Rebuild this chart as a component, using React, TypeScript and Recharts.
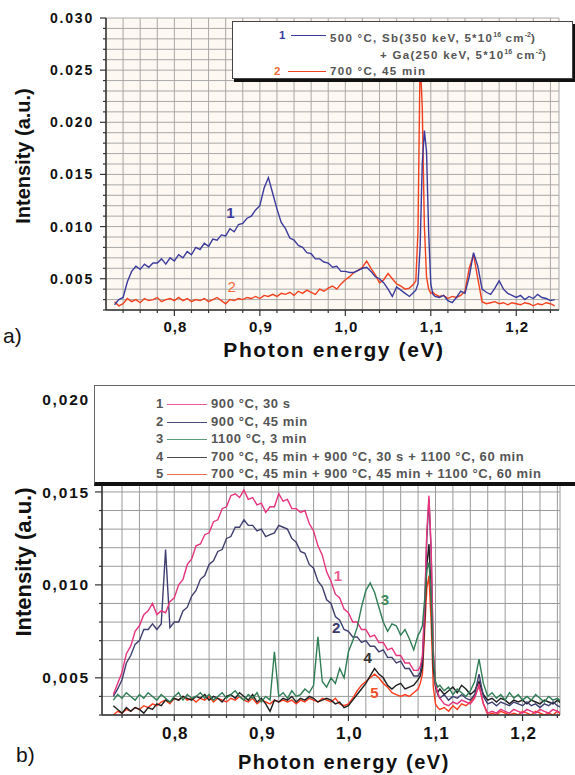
import { LineChart, Line, XAxis, YAxis, CartesianGrid, Legend, ReferenceDot } from 'recharts';

const FONT = '"Liberation Sans", Arial, sans-serif';

// photon energy (eV), finer steps across the 1.09 eV line
const energy = [
    0.730, 0.735, 0.740, 0.745, 0.750, 0.755, 0.760, 0.765, 0.770, 0.775,
    0.780, 0.785, 0.790, 0.795, 0.800, 0.805, 0.810, 0.815, 0.820, 0.825,
    0.830, 0.835, 0.840, 0.845, 0.850, 0.855, 0.860, 0.865, 0.870, 0.875,
    0.880, 0.885, 0.890, 0.895, 0.900, 0.905, 0.910, 0.915, 0.920, 0.925,
    0.930, 0.935, 0.940, 0.945, 0.950, 0.955, 0.960, 0.965, 0.970, 0.975,
    0.980, 0.985, 0.990, 0.995, 1.000, 1.005, 1.010, 1.015, 1.020, 1.025,
    1.030, 1.035, 1.040, 1.045, 1.050, 1.055, 1.060, 1.065, 1.070, 1.075,
    1.080, 1.0825, 1.085, 1.0875, 1.090, 1.0925, 1.095, 1.0975, 1.100, 1.1025,
    1.105, 1.110, 1.115, 1.120, 1.125, 1.130, 1.135, 1.140, 1.145, 1.150,
    1.155, 1.160, 1.165, 1.170, 1.175, 1.180, 1.185, 1.190, 1.195, 1.200,
    1.205, 1.210, 1.215, 1.220, 1.225, 1.230, 1.235, 1.240, 1.245,
];

// panel a) 1: 500 °C, Sb + Ga implanted
const implantedA = [
    0.0025, 0.0030, 0.0032, 0.0047, 0.0057, 0.0062, 0.0059, 0.0064, 0.0061, 0.0065,
    0.0065, 0.0069, 0.0064, 0.0070, 0.0067, 0.0073, 0.0070, 0.0076, 0.0073, 0.0080,
    0.0078, 0.0084, 0.0081, 0.0088, 0.0087, 0.0092, 0.0091, 0.0098, 0.0095, 0.0102,
    0.0103, 0.0108, 0.0110, 0.0116, 0.0120, 0.0137, 0.0147, 0.0132, 0.0117, 0.0104,
    0.0098, 0.0089, 0.0087, 0.0082, 0.0080, 0.0075, 0.0074, 0.0069, 0.0069, 0.0066,
    0.0065, 0.0061, 0.0062, 0.0057, 0.0057, 0.0056, 0.0056, 0.0058, 0.0060, 0.0061,
    0.0057, 0.0052, 0.0050, 0.0046, 0.0040, 0.0033, 0.0042, 0.0039, 0.0036, 0.0033,
    0.0037, 0.0039, 0.0045, 0.0080, 0.0160, 0.0192, 0.0172, 0.0095, 0.0045, 0.0035,
    0.0033, 0.0032, 0.0034, 0.0029, 0.0027, 0.0032, 0.0038, 0.0036, 0.0052, 0.0075,
    0.0062, 0.0040, 0.0037, 0.0035, 0.0041, 0.0048, 0.0040, 0.0036, 0.0034, 0.0032,
    0.0034, 0.0030, 0.0033, 0.0031, 0.0035, 0.0032, 0.0031, 0.0029, 0.0030,
];

// panel a) 2: 700 °C, 45 min
const anneal700A = [
    0.0028, 0.0024, 0.0026, 0.0031, 0.0028, 0.0030, 0.0027, 0.0031, 0.0029, 0.0030,
    0.0032, 0.0028, 0.0030, 0.0031, 0.0029, 0.0032, 0.0029, 0.0031, 0.0028, 0.0030,
    0.0029, 0.0031, 0.0028, 0.0030, 0.0032, 0.0029, 0.0026, 0.0030, 0.0029, 0.0031,
    0.0030, 0.0032, 0.0031, 0.0033, 0.0031, 0.0034, 0.0033, 0.0035, 0.0033, 0.0036,
    0.0035, 0.0037, 0.0034, 0.0038, 0.0036, 0.0039, 0.0037, 0.0035, 0.0040, 0.0038,
    0.0041, 0.0043, 0.0040, 0.0045, 0.0049, 0.0052, 0.0056, 0.0058, 0.0061, 0.0067,
    0.0060, 0.0054, 0.0046, 0.0049, 0.0055, 0.0050, 0.0045, 0.0043, 0.0040, 0.0041,
    0.0045, 0.0048, 0.0095, 0.0262, 0.0215, 0.0100, 0.0052, 0.0040, 0.0036, 0.0037,
    0.0035, 0.0033, 0.0034, 0.0031, 0.0033, 0.0032, 0.0034, 0.0038, 0.0060, 0.0073,
    0.0050, 0.0028, 0.0026, 0.0027, 0.0028, 0.0026, 0.0027, 0.0025, 0.0027, 0.0026,
    0.0025, 0.0027, 0.0026, 0.0024, 0.0026, 0.0025, 0.0027, 0.0026, 0.0024,
];

// panel b) 1: 900 °C, 30 s
const rta900s = [
    0.0041, 0.0047, 0.0053, 0.0063, 0.0067, 0.0075, 0.0078, 0.0084, 0.0086, 0.0090,
    0.0084, 0.0086, 0.0085, 0.0091, 0.0093, 0.0100, 0.0103, 0.0111, 0.0114, 0.0121,
    0.0122, 0.0127, 0.0128, 0.0134, 0.0135, 0.0141, 0.0142, 0.0148, 0.0149, 0.0147,
    0.0151, 0.0146, 0.0147, 0.0143, 0.0144, 0.0139, 0.0142, 0.0142, 0.0149, 0.0145,
    0.0146, 0.0141, 0.0141, 0.0139, 0.0140, 0.0133, 0.0129, 0.0121, 0.0116, 0.0107,
    0.0102, 0.0095, 0.0093, 0.0087, 0.0085, 0.0080, 0.0080, 0.0076, 0.0076, 0.0072,
    0.0073, 0.0069, 0.0069, 0.0065, 0.0066, 0.0062, 0.0062, 0.0058, 0.0058, 0.0054,
    0.0054, 0.0056, 0.0062, 0.0088, 0.0128, 0.0148, 0.0120, 0.0065, 0.0047, 0.0042,
    0.0039, 0.0036, 0.0035, 0.0037, 0.0036, 0.0038, 0.0037, 0.0036, 0.0039, 0.0046,
    0.0036, 0.0031, 0.0032, 0.0031, 0.0033, 0.0032, 0.0031, 0.0033, 0.0032, 0.0031,
    0.0033, 0.0032, 0.0031, 0.0033, 0.0032, 0.0031, 0.0033, 0.0032, 0.0031,
];

// panel b) 2: 900 °C, 45 min
const anneal900 = [
    0.0040, 0.0044, 0.0049, 0.0058, 0.0062, 0.0068, 0.0070, 0.0076, 0.0076, 0.0079,
    0.0076, 0.0079, 0.0119, 0.0077, 0.0080, 0.0080, 0.0086, 0.0088, 0.0094, 0.0097,
    0.0103, 0.0105, 0.0111, 0.0113, 0.0118, 0.0119, 0.0125, 0.0126, 0.0131, 0.0131,
    0.0135, 0.0132, 0.0132, 0.0129, 0.0130, 0.0126, 0.0127, 0.0128, 0.0132, 0.0131,
    0.0130, 0.0125, 0.0123, 0.0118, 0.0117, 0.0111, 0.0109, 0.0102, 0.0099, 0.0092,
    0.0090, 0.0083, 0.0081, 0.0076, 0.0075, 0.0072, 0.0072, 0.0069, 0.0070, 0.0067,
    0.0067, 0.0064, 0.0065, 0.0061, 0.0061, 0.0058, 0.0059, 0.0055, 0.0055, 0.0051,
    0.0051, 0.0053, 0.0060, 0.0085, 0.0125, 0.0146, 0.0118, 0.0062, 0.0046, 0.0041,
    0.0039, 0.0041, 0.0038, 0.0040, 0.0039, 0.0041, 0.0039, 0.0038, 0.0041, 0.0052,
    0.0040, 0.0036, 0.0037, 0.0035, 0.0037, 0.0036, 0.0035, 0.0037, 0.0036, 0.0035,
    0.0037, 0.0035, 0.0036, 0.0034, 0.0036, 0.0035, 0.0037, 0.0035, 0.0034,
];

// panel b) 3: 1100 °C, 3 min
const anneal1100 = [
    0.0038, 0.0041, 0.0039, 0.0042, 0.0040, 0.0038, 0.0041, 0.0039, 0.0042, 0.0040,
    0.0038, 0.0041, 0.0039, 0.0037, 0.0040, 0.0042, 0.0038, 0.0041, 0.0039, 0.0040,
    0.0042, 0.0039, 0.0041, 0.0038, 0.0040, 0.0042, 0.0039, 0.0041, 0.0043, 0.0040,
    0.0038, 0.0041, 0.0039, 0.0042, 0.0037, 0.0040, 0.0038, 0.0064, 0.0040, 0.0042,
    0.0039, 0.0043, 0.0040, 0.0041, 0.0044, 0.0042, 0.0046, 0.0072, 0.0048, 0.0045,
    0.0050, 0.0047, 0.0055, 0.0050, 0.0064, 0.0070, 0.0077, 0.0088, 0.0097, 0.0101,
    0.0096, 0.0088, 0.0080, 0.0075, 0.0079, 0.0078, 0.0073, 0.0076, 0.0071, 0.0065,
    0.0073, 0.0075, 0.0078, 0.0092, 0.0108, 0.0112, 0.0095, 0.0060, 0.0048, 0.0045,
    0.0046, 0.0043, 0.0045, 0.0041, 0.0044, 0.0042, 0.0040, 0.0043, 0.0048, 0.0060,
    0.0047, 0.0040, 0.0042, 0.0039, 0.0041, 0.0038, 0.0042, 0.0039, 0.0041, 0.0038,
    0.0040, 0.0038, 0.0041, 0.0039, 0.0037, 0.0040, 0.0038, 0.0039, 0.0037,
];

// panel b) 4: 700 °C 45 min + 900 °C 30 s + 1100 °C 60 min
const stepRta = [
    0.0035, 0.0033, 0.0031, 0.0034, 0.0032, 0.0034, 0.0033, 0.0031, 0.0034, 0.0033,
    0.0036, 0.0035, 0.0038, 0.0037, 0.0039, 0.0038, 0.0040, 0.0039, 0.0038, 0.0040,
    0.0039, 0.0041, 0.0038, 0.0040, 0.0039, 0.0037, 0.0040, 0.0041, 0.0039, 0.0042,
    0.0040, 0.0038, 0.0041, 0.0037, 0.0039, 0.0036, 0.0032, 0.0038, 0.0037, 0.0039,
    0.0038, 0.0040, 0.0037, 0.0039, 0.0038, 0.0040, 0.0039, 0.0037, 0.0038, 0.0039,
    0.0038, 0.0036, 0.0037, 0.0034, 0.0035, 0.0038, 0.0041, 0.0044, 0.0047, 0.0051,
    0.0055, 0.0052, 0.0050, 0.0046, 0.0044, 0.0046, 0.0047, 0.0044, 0.0045, 0.0046,
    0.0049, 0.0051, 0.0056, 0.0080, 0.0110, 0.0122, 0.0095, 0.0055, 0.0045, 0.0042,
    0.0044, 0.0041, 0.0043, 0.0045, 0.0042, 0.0046, 0.0044, 0.0041, 0.0043, 0.0048,
    0.0041, 0.0038, 0.0039, 0.0037, 0.0039, 0.0038, 0.0036, 0.0038, 0.0037, 0.0038,
    0.0036, 0.0038, 0.0037, 0.0036, 0.0038, 0.0037, 0.0036, 0.0038, 0.0036,
];

// panel b) 5: 700 °C 45 min + 900 °C 45 min + 1100 °C 60 min
const stepLong = [
    0.0030, 0.0032, 0.0031, 0.0033, 0.0032, 0.0034, 0.0033, 0.0035, 0.0034, 0.0036,
    0.0035, 0.0037, 0.0038, 0.0036, 0.0039, 0.0038, 0.0040, 0.0038, 0.0039, 0.0037,
    0.0039, 0.0038, 0.0040, 0.0037, 0.0039, 0.0038, 0.0037, 0.0039, 0.0038, 0.0040,
    0.0038, 0.0037, 0.0039, 0.0036, 0.0038, 0.0037, 0.0036, 0.0038, 0.0037, 0.0038,
    0.0037, 0.0038, 0.0036, 0.0038, 0.0037, 0.0039, 0.0038, 0.0037, 0.0039, 0.0038,
    0.0037, 0.0039, 0.0036, 0.0035, 0.0036, 0.0039, 0.0043, 0.0046, 0.0048, 0.0050,
    0.0052, 0.0050, 0.0047, 0.0045, 0.0042, 0.0041, 0.0040, 0.0041, 0.0040, 0.0042,
    0.0044, 0.0047, 0.0052, 0.0075, 0.0098, 0.0105, 0.0080, 0.0045, 0.0036, 0.0034,
    0.0033, 0.0034, 0.0032, 0.0035, 0.0033, 0.0036, 0.0035, 0.0037, 0.0040, 0.0046,
    0.0036, 0.0030, 0.0031, 0.0030, 0.0032, 0.0031, 0.0030, 0.0031, 0.0030, 0.0032,
    0.0031, 0.0030, 0.0032, 0.0031, 0.0030, 0.0031, 0.0030, 0.0032, 0.0030,
];

const xTicks = [
    0.74, 0.76, 0.78, 0.8, 0.82, 0.84, 0.86, 0.88, 0.9, 0.92, 0.94, 0.96, 0.98,
    1.0, 1.02, 1.04, 1.06, 1.08, 1.1, 1.12, 1.14, 1.16, 1.18, 1.2, 1.22, 1.24,
];
const xMajor = [0.8, 0.9, 1.0, 1.1, 1.2];
const xMajorLabels = ['0,8', '0,9', '1,0', '1,1', '1,2'];

const yTicksA = [
    0.002, 0.003, 0.004, 0.005, 0.006, 0.007, 0.008, 0.009, 0.01, 0.011, 0.012,
    0.013, 0.014, 0.015, 0.016, 0.017, 0.018, 0.019, 0.02, 0.021, 0.022, 0.023,
    0.024, 0.025, 0.026, 0.027, 0.028, 0.029, 0.03,
];
const yMajorA = [0.005, 0.01, 0.015, 0.02, 0.025, 0.03];
const yMajorLabelsA = ['0.005', '0.010', '0.015', '0.020', '0.025', '0.030'];

const yTicksB = [
    0.003, 0.004, 0.005, 0.006, 0.007, 0.008, 0.009, 0.01, 0.011, 0.012, 0.013,
    0.014, 0.015, 0.016, 0.017, 0.018, 0.019, 0.02,
];
const yMajorB = [0.005, 0.01, 0.015, 0.02];
const yMajorLabelsB = ['0,005', '0,010', '0,015', '0,020'];

const dataA = energy.map((e, i) => ({ e, s1: implantedA[i], s2: anneal700A[i] }));
const dataB = energy.map((e, i) => ({
    e,
    s1: rta900s[i],
    s2: anneal900[i],
    s3: anneal1100[i],
    s4: stepRta[i],
    s5: stepLong[i],
}));

const findMajor = (list: number[], v: number) => list.findIndex((m) => Math.abs(m - v) < 1e-7);

const makeYTick =
    (majors: number[], labels: string[], fontSize: number, majorLen: number, gap: number) =>
    (p: any) => {
        const i = findMajor(majors, p.payload.value);
        const len = i >= 0 ? majorLen : 3;
        return (
            <g>
                <line x1={p.x - len} x2={p.x} y1={p.y} y2={p.y} stroke="#333" strokeWidth={1.2} />
                {i >= 0 && (
                    <text
                        x={p.x - gap}
                        y={p.y}
                        dy="0.36em"
                        textAnchor="end"
                        fontFamily={FONT}
                        fontSize={fontSize}
                        fontWeight={700}
                        letterSpacing={1.8}
                        fill="#111"
                    >
                        {labels[i]}
                    </text>
                )}
            </g>
        );
    };

const makeXTick = (fontSize: number, baseline: number) => (p: any) => {
    const i = findMajor(xMajor, p.payload.value);
    const len = i >= 0 ? 6 : 3;
    return (
        <g>
            <line x1={p.x} x2={p.x} y1={p.y} y2={p.y + len} stroke="#333" strokeWidth={1.2} />
            {i >= 0 && (
                <text
                    x={p.x + 1}
                    y={p.y + baseline}
                    textAnchor="middle"
                    fontFamily={FONT}
                    fontSize={fontSize}
                    fontWeight={700}
                    letterSpacing={1}
                    fill="#111"
                >
                    {xMajorLabels[i]}
                </text>
            )}
        </g>
    );
};

const yTitle = (x: number, y: number, size: number) => () => (
    <text
        transform={`translate(${x},${y}) rotate(-90)`}
        textAnchor="middle"
        fontFamily={FONT}
        fontSize={size}
        fontWeight={700}
        fill="#111"
    >
        Intensity (a.u.)
    </text>
);

const xTitle = (cx: number, base: number, size: number, panel: string, px: number, pBase: number) => () => (
    <g>
        <text
            x={cx}
            y={base}
            textAnchor="middle"
            fontFamily={FONT}
            fontSize={size}
            fontWeight={700}
            letterSpacing={1.6}
            fill="#111"
        >
            Photon energy (eV)
        </text>
        <text x={px} y={pBase} fontFamily={FONT} fontSize={21} fill="#111">
            {panel}
        </text>
    </g>
);

const legendText = {
    position: 'absolute' as const,
    whiteSpace: 'nowrap' as const,
    lineHeight: '14px',
};

const sup = { fontSize: 7, letterSpacing: 0 };

const LegendA = () => (
    <div
        style={{
            position: 'relative',
            width: 341,
            height: 58,
            boxSizing: 'border-box',
            background: '#fff',
            border: '1px solid #444',
            boxShadow: '2px 3px 0 #111',
            fontFamily: FONT,
            fontWeight: 700,
            fontSize: 11.5,
            letterSpacing: 1.3,
            color: '#555',
        }}
    >
        <span style={{ ...legendText, left: 46, top: 6, color: '#3b3b9e' }}>1</span>
        <span style={{ ...legendText, left: 58, top: 13, width: 35, height: 0, borderTop: '1px solid #3b3b9e' }} />
        <span style={{ ...legendText, left: 97, top: 6 }}>
            500 °C, Sb(350 keV, 5*10<sup style={sup}>16</sup> cm<sup style={sup}>-2</sup>)
        </span>
        <span style={{ ...legendText, left: 147, top: 23 }}>
            + Ga(250 keV, 5*10<sup style={sup}>16</sup> cm<sup style={sup}>-2</sup>)
        </span>
        <span style={{ ...legendText, left: 41, top: 42, color: '#f06a3a' }}>2</span>
        <span style={{ ...legendText, left: 55, top: 49, width: 38, height: 0, borderTop: '1px solid #f2401e' }} />
        <span style={{ ...legendText, left: 97, top: 42 }}>700 °C, 45 min</span>
    </div>
);

const legendNamesB = [
    '900 °C, 30 s',
    '900 °C, 45 min',
    '1100 °C, 3 min',
    '700 °C, 45 min + 900 °C, 30 s + 1100 °C, 60 min',
    '700 °C, 45 min + 900 °C, 45 min + 1100 °C, 60 min',
];
const legendColorsB = ['#ec5c94', '#4a4a78', '#5c9a78', '#4a4a4a', '#f46a4a'];
const legendRowsB = [19, 37, 54, 72, 89];

const LegendB = () => (
    <div
        style={{
            position: 'relative',
            width: 481,
            height: 101,
            boxSizing: 'border-box',
            background: '#fff',
            borderTop: '1px solid #666',
            borderLeft: '1px solid #666',
            borderBottom: '4px solid #111',
            fontFamily: FONT,
            fontWeight: 700,
            fontSize: 13,
            letterSpacing: 0.6,
            color: '#555',
        }}
    >
        {legendNamesB.map((name, i) => (
            <div key={name}>
                <span style={{ ...legendText, left: 61, top: legendRowsB[i] - 8 }}>{i + 1}</span>
                <span
                    style={{
                        ...legendText,
                        left: 72,
                        top: legendRowsB[i] - 1,
                        width: 40,
                        height: 0,
                        borderTop: `1.5px solid ${legendColorsB[i]}`,
                    }}
                />
                <span style={{ ...legendText, left: 116, top: legendRowsB[i] - 8 }}>{name}</span>
            </div>
        ))}
    </div>
);

const curveLabel = (text: string, color: string, size: number, weight = 700) => ({
    value: text,
    position: 'center' as const,
    fill: color,
    fontSize: size,
    fontWeight: weight,
    fontFamily: FONT,
});

const ChartA = () => (
    <LineChart width={575} height={375} data={dataA} margin={{ top: 18, right: 16, bottom: 0, left: 0 }}>
        <CartesianGrid stroke="#a8a8a8" strokeWidth={1} fill="#fdf8f1" />
        <XAxis
            dataKey="e"
            type="number"
            domain={[0.72, 1.25]}
            ticks={xTicks}
            allowDataOverflow
            interval={0}
            height={65}
            tickSize={0}
            tickMargin={0}
            tickLine={false}
            axisLine={{ stroke: '#333', strokeWidth: 1.5 }}
            tick={makeXTick(15, 22)}
            label={xTitle(334, 357, 21, 'a)', 3, 343)}
        />
        <YAxis
            type="number"
            domain={[0.002, 0.03]}
            ticks={yTicksA}
            allowDataOverflow
            interval={0}
            width={106}
            tickSize={0}
            tickMargin={0}
            tickLine={false}
            axisLine={{ stroke: '#333', strokeWidth: 1.5 }}
            tick={makeYTick(yMajorA, yMajorLabelsA, 14, 6, 12)}
            label={yTitle(30, 156, 20)}
        />
        <Line type="linear" dataKey="s2" stroke="#f2401e" strokeWidth={1.4} dot={false} isAnimationActive={false} />
        <Line type="linear" dataKey="s1" stroke="#3b3b9e" strokeWidth={1.4} dot={false} isAnimationActive={false} />
        <ReferenceDot x={0.8655} y={0.01135} r={0} fill="none" stroke="none" label={curveLabel('1', '#3b3b9e', 15)} />
        <ReferenceDot x={0.867} y={0.0042} r={0} fill="none" stroke="none" label={curveLabel('2', '#f06a3a', 15, 400)} />
        <Legend
            layout="horizontal"
            verticalAlign="middle"
            align="center"
            wrapperStyle={{ left: 232, top: 21, width: 341, height: 58 }}
            content={() => <LegendA />}
        />
    </LineChart>
);

const ChartB = () => (
    <LineChart width={575} height={395} data={dataB} margin={{ top: 19, right: 15, bottom: 0, left: 0 }}>
        <CartesianGrid stroke="#9a9a9a" strokeWidth={1} fill="#ffffff" />
        <XAxis
            dataKey="e"
            type="number"
            domain={[0.717, 1.243]}
            ticks={xTicks}
            allowDataOverflow
            interval={0}
            height={60}
            tickSize={0}
            tickMargin={0}
            tickLine={false}
            axisLine={{ stroke: '#333', strokeWidth: 1.5 }}
            tick={makeXTick(17, 24)}
            label={xTitle(344, 389, 20, 'b)', 16, 382)}
        />
        <YAxis
            type="number"
            domain={[0.003, 0.02]}
            ticks={yTicksB}
            allowDataOverflow
            interval={0}
            width={102}
            tickSize={0}
            tickMargin={0}
            tickLine={false}
            axisLine={{ stroke: '#333', strokeWidth: 1.5 }}
            tick={makeYTick(yMajorB, yMajorLabelsB, 15.5, 7, 12)}
            label={yTitle(31, 182, 22)}
        />
        <Line type="linear" dataKey="s5" stroke="#ff3a1c" strokeWidth={1.4} dot={false} isAnimationActive={false} />
        <Line type="linear" dataKey="s4" stroke="#1e1e1e" strokeWidth={1.4} dot={false} isAnimationActive={false} />
        <Line type="linear" dataKey="s2" stroke="#3e3e70" strokeWidth={1.4} dot={false} isAnimationActive={false} />
        <Line type="linear" dataKey="s1" stroke="#e6337e" strokeWidth={1.4} dot={false} isAnimationActive={false} />
        <Line type="linear" dataKey="s3" stroke="#2f7d55" strokeWidth={1.4} dot={false} isAnimationActive={false} />
        <ReferenceDot x={0.988} y={0.0105} r={0} fill="none" stroke="none" label={curveLabel('1', '#ec5c94', 15)} />
        <ReferenceDot x={0.986} y={0.0077} r={0} fill="none" stroke="none" label={curveLabel('2', '#3a3a6a', 15)} />
        <ReferenceDot x={1.042} y={0.0092} r={0} fill="none" stroke="none" label={curveLabel('3', '#3d8a5a', 15)} />
        <ReferenceDot x={1.022} y={0.0061} r={0} fill="none" stroke="none" label={curveLabel('4', '#333333', 15)} />
        <ReferenceDot x={1.03} y={0.0042} r={0} fill="none" stroke="none" label={curveLabel('5', '#f0502a', 15)} />
        <Legend
            layout="horizontal"
            verticalAlign="middle"
            align="center"
            wrapperStyle={{ left: 94, top: 5, width: 481, height: 101 }}
            content={() => <LegendB />}
        />
    </LineChart>
);

export default function App() {
    return (
        <div style={{ position: 'absolute', left: 0, top: 0, width: 575, height: 775, background: '#fff', overflow: 'hidden' }}>
            <div style={{ position: 'absolute', left: 0, top: 0 }}>
                <ChartA />
            </div>
            <div style={{ position: 'absolute', left: 0, top: 380 }}>
                <ChartB />
            </div>
        </div>
    );
}
